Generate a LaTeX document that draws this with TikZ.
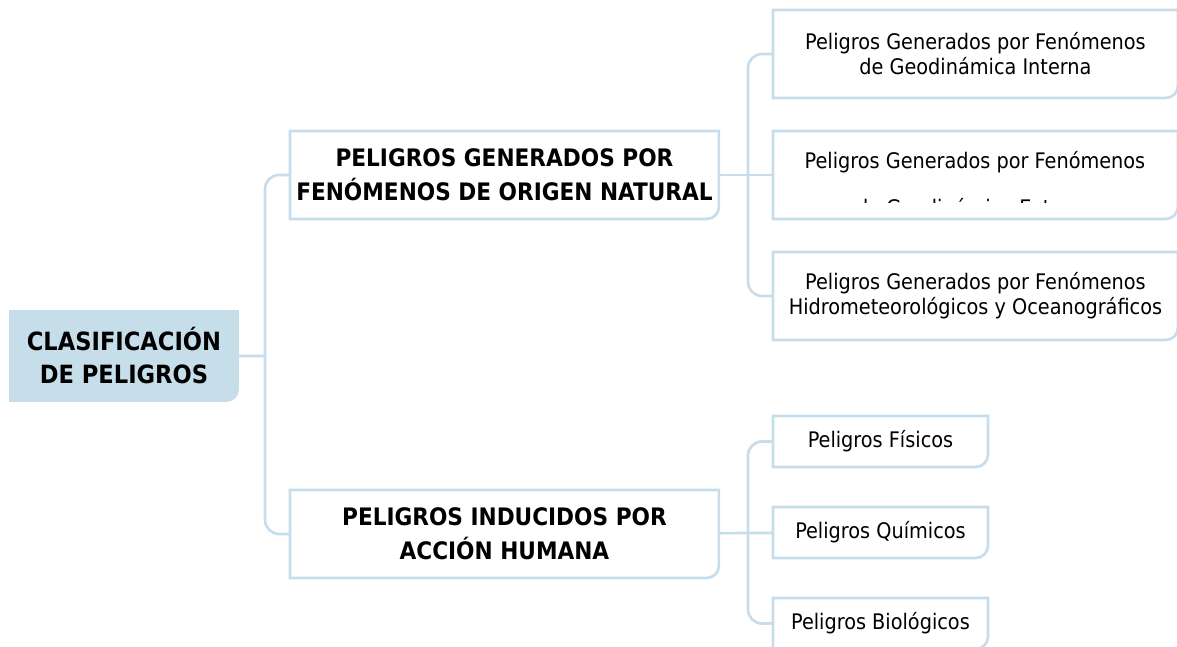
\documentclass[tikz,border=0pt]{standalone}
\usepackage{fontspec}
\setmainfont{DejaVu Sans Condensed}
\definecolor{linkblue}{RGB}{197,221,236}
\definecolor{rootblue}{RGB}{198,222,234}
\tikzset{
  cbox/.style={
    append after command={
      \pgfextra{
        \path[#1] (\tikzlastnode.north west) -- (\tikzlastnode.north east)
          -- ([yshift=7pt]\tikzlastnode.south east)
          arc[start angle=0,end angle=-90,radius=7pt]
          -- (\tikzlastnode.south west) -- cycle;
      }
    }
  },
}

\begin{document}
\begin{tikzpicture}[
	x=0.02cm, y=-0.02cm,
	link/.style={draw=linkblue, line width=1.5pt},
	box/.style={inner sep=0pt, outer sep=0pt, anchor=north west, align=center},
	headbox/.style={box, minimum width=8.58cm, minimum height=1.76cm,
	  font=\bfseries\fontsize{13.7}{19.3}\selectfont, cbox={draw=linkblue, line width=1.5pt}},
	bigleaf/.style={box, minimum width=8.1cm, minimum height=1.76cm,
	  font=\fontsize{12.2}{14.2}\selectfont, cbox={draw=linkblue, line width=1.5pt}},
	smallleaf/.style={box, minimum width=4.3cm, minimum height=1.02cm,
	  font=\fontsize{12.2}{14.2}\selectfont, cbox={draw=linkblue, line width=1.5pt}},
	]
\useasboundingbox (0,0) rectangle (1177,646);
% root
\node [box, minimum width=4.6cm, minimum height=1.84cm, cbox={fill=rootblue}] (root) at (9,310) {};
\node (roottext) at (root.center) [align=center, font=\bfseries\fontsize{14.3}{18.8}\selectfont]
  {CLASIFICACIÓN\\DE PELIGROS};
% level 1
\node [headbox] (nat) at (290,131) {PELIGROS GENERADOS POR\\FENÓMENOS DE ORIGEN NATURAL};
\node [headbox] (hum) at (290,490) {PELIGROS INDUCIDOS POR\\ACCIÓN HUMANA};
% level 2, natural
\node [bigleaf] (gint) at (773,10) {Peligros Generados por Fenómenos\\de Geodinámica Interna};
\node [bigleaf] (gext) at (773,131) {};
\node [anchor=base, font=\fontsize{12.2}{14.2}\selectfont] (gexta) at (975,168)
  {Peligros Generados por Fenómenos};
\begin{scope}
  \clip (gext.north west) rectangle (1177,202);
  \node [anchor=base, font=\fontsize{12.2}{14.2}\selectfont] (gextb) at (975,215)
    {de Geodinámica Externa};
\end{scope}
\node [bigleaf] (hidro) at (773,252) {Peligros Generados por Fenómenos\\Hidrometeorológicos y Oceanográficos};
% level 2, human
\node [smallleaf] (fis) at (773,416) {Peligros Físicos};
\node [smallleaf] (qui) at (773,507) {Peligros Químicos};
\node [smallleaf] (bio) at (773,598) {Peligros Biológicos};
% connectors
\coordinate (busroot) at (265,356);
\coordinate (busnat) at (748,175);
\coordinate (bushum) at (748,532);
\draw[link] (root) -- (busroot);
\draw[link, rounded corners=8pt] (nat.west) -| (busroot) |- (hum.west);
\draw[link] (nat) -- (gext);
\draw[link, rounded corners=8pt] (gint.west) -| (busnat) |- (hidro.west);
\draw[link] (hum) -- (qui);
\draw[link, rounded corners=8pt] (fis.west) -| (bushum) |- (bio.west);
\end{tikzpicture}
\end{document}
